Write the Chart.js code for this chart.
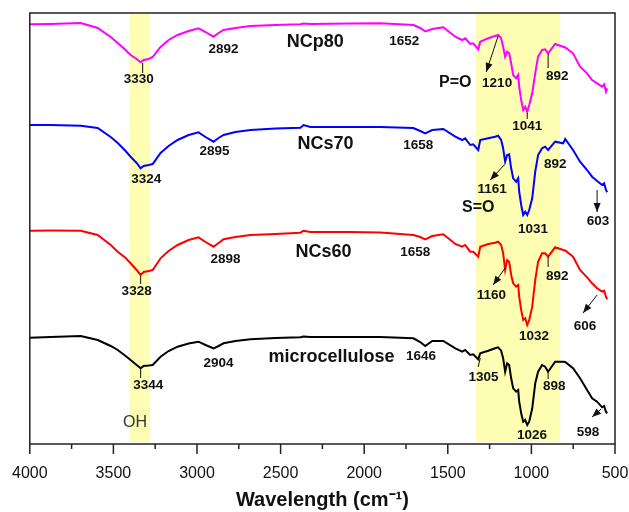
<!DOCTYPE html>
<html>
<head>
<meta charset="utf-8">
<script src="https://cdn.jsdelivr.net/npm/chart.js"></script>
<style>
  body { margin: 0; background: #fff; }
  canvas { display: block; }
</style>
</head>
<body>
<canvas id="chart" width="629" height="512"></canvas>
<script>
// wavenumber grid (cm-1), shared by all four spectra
const wavenumbers = [4000, 3875, 3695, 3594, 3516, 3474, 3427, 3397, 3361, 3337, 3319, 3289, 3265, 3218, 3170, 3116, 3050, 2991, 2949, 2901,
  2871, 2841, 2770, 2680, 2531, 2381, 2363, 2322, 2083, 1903, 1706, 1665, 1635, 1593, 1527, 1455, 1414, 1396, 1366, 1348,
  1318, 1306, 1258, 1217, 1199, 1181, 1169, 1157, 1145, 1133, 1121, 1109, 1091, 1079, 1073, 1061, 1049, 1037, 1025, 1013,
  995, 977, 960, 936, 918, 900, 858, 810, 798, 751, 709, 667, 637, 607, 577, 565, 554, 547];

// transmittance, stacked (arbitrary units)
const ncp80 = [419.7, 420, 421, 416, 407, 401, 394, 389, 385, 381.7, 384, 385, 387, 397, 404, 409, 413, 415.7, 412, 407.3,
  411, 414, 416, 418, 419, 419.7, 420.5, 420, 420.5, 420.7, 419, 416, 412.5, 415, 416.7, 407.3, 404, 405.7, 400, 400.7,
  394.7, 402.3, 405.7, 408, 409, 405.7, 397.3, 387.3, 392.3, 390.7, 380.7, 369, 365.7, 369, 357.3, 344, 334, 337.3, 332.3, 339,
  350.7, 370.7, 387.3, 394, 394.7, 390.7, 400, 397.3, 396.5, 390.7, 377.3, 370.7, 364, 360.7, 357.3, 359.7, 352.3, 355.7];
const ncs70 = [319, 319, 318.3, 316, 307, 301, 293, 287.3, 281, 275.7, 278, 279, 280, 291, 298, 304, 309, 311.7, 307, 302.3,
  306, 309, 312, 314, 315.5, 316.3, 319, 317, 317, 317, 316, 313, 310.7, 314, 315, 307.3, 304, 305.7, 299, 299.7,
  294, 304, 305.7, 307.3, 308.3, 304, 295.7, 282.3, 289, 289.7, 275.7, 265.7, 262.3, 265.7, 252.3, 239, 229, 232.3, 229, 234,
  245.7, 272.3, 289, 295.7, 297.3, 294, 302.3, 300.7, 305, 294, 282.3, 274, 267.3, 263, 259, 260.7, 254, 251.7];
const ncs60 = [213.3, 213.5, 213.3, 209, 199, 192.3, 186, 180.7, 174, 169, 172, 173, 174, 185.7, 193, 199, 204, 206.7, 202, 197.3,
  201, 204.7, 207, 209, 210, 211.3, 213.3, 212, 212, 211.5, 209, 207, 204.7, 208, 209.7, 200, 197.3, 199, 192.3, 192.3,
  187.3, 197.3, 200, 201.3, 202.3, 199, 190.7, 174, 184, 182.3, 169, 160.7, 157.3, 159, 147.3, 134, 124, 125.7, 119, 124,
  137.3, 164, 182.3, 190.7, 190.7, 187.3, 196.7, 194, 193.5, 187.3, 174, 166.7, 160.7, 155.7, 152.3, 153.3, 147.3, 144.7];
const micro = [106.3, 107, 108, 104, 98, 94, 88, 84, 79, 75.7, 78, 78.5, 79, 87.3, 93, 97.3, 100.5, 102.3, 99, 95.7,
  98, 100.7, 103, 104.7, 106, 106.7, 107.5, 107, 107, 107, 105.7, 102, 98, 103, 103, 95.7, 92.3, 94, 89, 89.7,
  84.7, 90.7, 93.3, 95.7, 96.7, 93.3, 85.7, 72.3, 80.7, 79, 65.7, 55.7, 52.3, 54, 42.3, 30.7, 22.3, 24, 19, 22.3,
  35.7, 60.7, 72.3, 79, 77.3, 72.3, 82.3, 82.3, 82, 75.7, 65.7, 54, 45.7, 42.3, 36.7, 38, 32.3, 30.7];

const seriesNames = ['NCp80', 'NCs70', 'NCs60', 'microcellulose'];
const seriesColors = ['#ff00ff', '#0000ff', '#ff0000', '#000000'];

// highlighted regions [from, to] in cm-1
const bands = [[3403, 3283], [1332, 828]];

// peak labels: [text, wavenumber, value, kind]
const labels = [
  ['3330', 3349, 365, 'n'], ['2892', 2841, 395, 'n'], ['NCp80', 2292, 402, 's'], ['1652', 1760, 403, 'n'],
  ['P=O', 1455, 361, 'g'], ['1210', 1205, 360.5, 'n'], ['892', 846, 368, 'n'], ['1041', 1025, 317.3, 'n'],
  ['3324', 3303, 265, 'n'], ['2895', 2895, 293, 'n'], ['NCs70', 2232, 300, 's'], ['1658', 1677, 299, 'n'],
  ['1161', 1235, 255, 'n'], ['S=O', 1318, 236.3, 'g'], ['892', 858, 279.7, 'n'], ['1031', 990, 214.7, 'n'], ['603', 601, 222.3, 'n'],
  ['3328', 3361, 152.3, 'n'], ['2898', 2829, 185, 'n'], ['NCs60', 2244, 192.3, 's'], ['1658', 1694, 191.7, 'n'],
  ['1160', 1240, 149, 'n'], ['892', 846, 168, 'n'], ['1032', 984, 108, 'n'], ['606', 679, 118, 'n'],
  ['3344', 3291, 58.3, 'n'], ['2904', 2871, 80.7, 'n'], ['microcellulose', 2196, 86.7, 's'], ['1646', 1660, 87.3, 'n'],
  ['1305', 1286, 66.7, 'n'], ['898', 864, 57.3, 'n'], ['1026', 996, 9, 'n'], ['598', 661, 11.3, 'n'],
  ['OH', 3371, 21.7, 'o']
];

// leader lines / arrows: [wn1, v1, wn2, v2, arrow]
const leaders = [
  [3325, 381, 3325, 371, false], [900, 390, 900, 376, false], [1025, 331, 1025, 325, false], [1199, 408, 1270, 372, true],
  [1163, 279, 1246, 264, true], [607, 254, 607, 232, true],
  [3337, 168, 3337, 160, false], [1157, 176, 1229, 159, true], [900, 187, 900, 177, false], [607, 149, 691, 131, true],
  [3337, 75, 3337, 66, false], [1306, 86, 1318, 77, false], [900, 72, 900, 65, false], [583, 35, 637, 27, true]
];

const fonts = {
  n: 'bold 13.5px "Liberation Sans", Arial, sans-serif',
  s: 'bold 18px "Liberation Sans", Arial, sans-serif',
  g: 'bold 16px "Liberation Sans", Arial, sans-serif',
  o: '16px "Liberation Sans", Arial, sans-serif'
};

const datasets = [ncp80, ncs70, ncs60, micro].map((arr, i) => ({
  label: seriesNames[i],
  data: arr.map((v, j) => ({ x: wavenumbers[j], y: v })),
  borderColor: seriesColors[i],
  borderWidth: 2,
  pointRadius: 0,
  tension: 0,
  fill: false
}));

const decor = {
  id: 'decor',
  beforeDatasetsDraw(chart) {
    const { ctx, chartArea: a, scales: { x } } = chart;
    ctx.save();
    ctx.fillStyle = '#fdfdb3';
    bands.forEach(([p, q]) => {
      const x1 = x.getPixelForValue(p), x2 = x.getPixelForValue(q);
      ctx.fillRect(Math.min(x1, x2), a.top + 1, Math.abs(x2 - x1), a.bottom - a.top - 3);
    });
    ctx.restore();
  },
  afterDatasetsDraw(chart) {
    const { ctx, chartArea: a, scales: { x, y } } = chart;
    ctx.save();
    ctx.strokeStyle = '#111';
    ctx.fillStyle = '#111';
    ctx.lineWidth = 1;
    leaders.forEach(([w1, v1, w2, v2, arrow]) => {
      const x1 = x.getPixelForValue(w1), y1 = y.getPixelForValue(v1);
      const x2 = x.getPixelForValue(w2), y2 = y.getPixelForValue(v2);
      ctx.beginPath();
      ctx.moveTo(x1, y1);
      ctx.lineTo(x2, y2);
      ctx.stroke();
      if (arrow) {
        const ang = Math.atan2(y2 - y1, x2 - x1);
        ctx.beginPath();
        ctx.moveTo(x2, y2);
        ctx.lineTo(x2 - 9 * Math.cos(ang) + 3.5 * Math.sin(ang), y2 - 9 * Math.sin(ang) - 3.5 * Math.cos(ang));
        ctx.lineTo(x2 - 9 * Math.cos(ang) - 3.5 * Math.sin(ang), y2 - 9 * Math.sin(ang) + 3.5 * Math.cos(ang));
        ctx.closePath();
        ctx.fill();
      }
    });
    ctx.textAlign = 'center';
    ctx.textBaseline = 'middle';
    labels.forEach(([t, w, v, k]) => {
      ctx.font = fonts[k];
      ctx.fillStyle = k === 'o' ? '#333' : '#111';
      ctx.fillText(t, x.getPixelForValue(w), y.getPixelForValue(v));
    });
    // frame and ticks
    ctx.strokeStyle = '#222';
    ctx.lineWidth = 1.5;
    ctx.strokeRect(a.left, a.top, a.right - a.left, a.bottom - a.top);
    x.ticks.forEach(t => {
      const px = x.getPixelForValue(t.value);
      ctx.beginPath();
      ctx.moveTo(px, a.bottom);
      ctx.lineTo(px, a.bottom + (t.value % 500 === 0 ? 10 : 5));
      ctx.stroke();
    });
    ctx.restore();
  }
};

new Chart(document.getElementById('chart').getContext('2d'), {
  type: 'line',
  data: { datasets },
  options: {
    responsive: false,
    animation: false,
    layout: { padding: { left: 29, right: 0, top: 13, bottom: 0 } },
    plugins: { legend: { display: false }, tooltip: { enabled: false } },
    scales: {
      x: {
        type: 'linear',
        reverse: true,
        min: 500,
        max: 4000,
        afterFit: s => { s.height = 68; s.paddingRight = 14; },
        grid: { display: false },
        border: { display: false },
        ticks: {
          stepSize: 250,
          autoSkip: false,
          maxRotation: 0,
          padding: 12,
          color: '#111',
          font: { family: '"Liberation Sans", Arial, sans-serif', size: 16 },
          callback: v => (v % 500 === 0 ? v : '')
        },
        title: {
          display: true,
          text: 'Wavelength (cm⁻¹)',
          color: '#111',
          padding: 0,
          font: { family: '"Liberation Sans", Arial, sans-serif', size: 20, weight: 'bold' }
        }
      },
      y: { display: false, min: 0, max: 431 }
    }
  },
  plugins: [decor]
});
</script>
</body>
</html>
